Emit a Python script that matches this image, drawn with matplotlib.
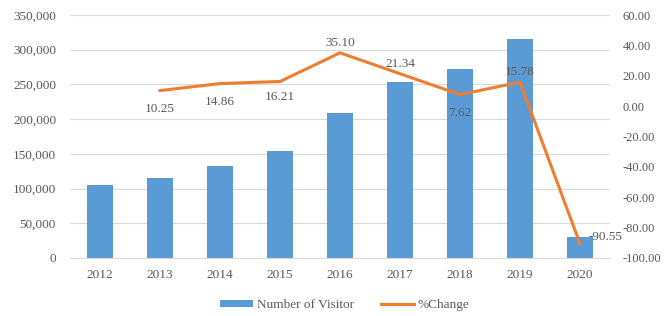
import numpy as np
import matplotlib.pyplot as plt
from matplotlib.ticker import FuncFormatter

plt.rcParams['font.family'] = ['Liberation Serif', 'DejaVu Serif']

years = ['2012', '2013', '2014', '2015', '2016', '2017', '2018', '2019', '2020']
visitors = [105000, 115800, 133000, 154500, 208800, 253300, 272600, 315600, 29800]
pct_years = ['2013', '2014', '2015', '2016', '2017', '2018', '2019', '2020']
pct_change = [10.25, 14.86, 16.21, 35.10, 21.34, 7.62, 15.78, -90.55]

bar_color = '#5B9BD5'
line_color = '#ED7D31'
text_color = '#595959'

fig = plt.figure(figsize=(6.65, 3.16), dpi=100)
ax = fig.add_axes([70/665, 1 - 258/316, 540/665, 243/316])
ax2 = ax.twinx()

x = np.arange(len(years))
ax.bar(x, visitors, width=0.42, color=bar_color, label='Number of Visitor', zorder=2)
ax.set_ylim(0, 350000)
ax.set_yticks(np.arange(0, 350001, 50000))
ax.yaxis.set_major_formatter(FuncFormatter(lambda v, p: '{:,.0f}'.format(v)))
ax.set_xlim(-0.5, len(years) - 0.5)
ax.set_xticks(x)
ax.set_xticklabels(years)
ax.grid(axis='y', color='#D9D9D9', linewidth=0.8, zorder=0)
ax.set_axisbelow(True)

px = [years.index(y) for y in pct_years]
ax2.plot(px, pct_change, color=line_color, linewidth=2.2, label='%Change', zorder=3)
ax2.set_ylim(-100, 60)
ax2.set_yticks(np.arange(-100, 61, 20))
ax2.yaxis.set_major_formatter(FuncFormatter(lambda v, p: '%.2f' % v))

# label offsets (points)
offsets = [(0, -13), (0, -13), (0, -11), (0, 7), (0, 7), (0, -13), (0, 7), (18, 5)]
for xi, v, off in zip(px, pct_change, offsets):
    ax2.annotate('%.2f' % v, (xi, v), xytext=off, textcoords='offset points',
                 ha='center', va='center', fontsize=9.5, color=text_color)

for a in (ax, ax2):
    for s in a.spines.values():
        s.set_visible(False)
    a.tick_params(length=0, labelsize=9.5, colors=text_color)
ax2.tick_params(labelsize=9)
ax.spines['bottom'].set_visible(True)
ax.spines['bottom'].set_color('#D9D9D9')
ax.tick_params(axis='x', pad=8)
ax.tick_params(axis='y', pad=10)
ax2.tick_params(axis='y', pad=9)

h1, l1 = ax.get_legend_handles_labels()
h2, l2 = ax2.get_legend_handles_labels()
fig.legend(h1 + h2, l1 + l2, loc='center', bbox_to_anchor=(345/665, 1 - 305/316),
           ncol=2, frameon=False, fontsize=9.5, labelcolor=text_color,
           handlelength=2.5, handleheight=0.4, columnspacing=2.0, handletextpad=0.3)

fig.savefig('out.png', dpi=100)
